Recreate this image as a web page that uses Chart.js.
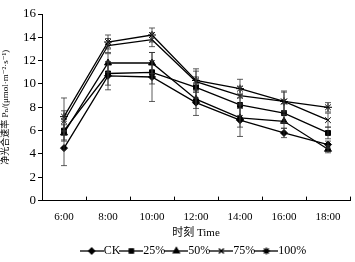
<!DOCTYPE html>
<html>
<head>
<meta charset="utf-8">
<script src="https://cdn.jsdelivr.net/npm/chart.js@4.4.0/dist/chart.umd.min.js"></script>
<style>
  html, body { margin: 0; padding: 0; background: #fff; }
  #wrap { width: 355px; height: 262px; }
</style>
</head>
<body>
<div id="wrap"><canvas id="pnChart"></canvas></div>
<script>
var times = ['6:00', '8:00', '10:00', '12:00', '14:00', '16:00', '18:00'];
var seriesNames = ['CK', '25%', '50%', '75%', '100%'];

var ck   = [4.5, 10.7, 10.6, 8.4, 6.9, 5.8, 4.8];
var p25  = [6.0, 10.9, 11.0, 9.7, 8.2, 7.5, 5.8];
var p50  = [5.8, 11.8, 11.8, 8.7, 7.1, 6.8, 4.4];
var p75  = [6.8, 13.3, 13.8, 10.2, 9.0, 8.5, 6.9];
var p100 = [7.2, 13.6, 14.2, 10.3, 9.6, 8.5, 8.0];

var ckErr   = [1.5, 1.2, 2.1, 1.1, 1.4, 0.4, 0.3];
var p25Err  = [0.8, 1.0, 1.0, 0.9, 0.9, 0.8, 0.5];
var p50Err  = [0.7, 0.8, 0.9, 0.8, 0.8, 0.6, 0.3];
var p75Err  = [0.9, 0.6, 0.6, 0.9, 0.8, 0.8, 0.6];
var p100Err = [1.6, 0.6, 0.6, 1.0, 0.8, 0.9, 0.4];

var yTicks = [0, 2, 4, 6, 8, 10, 12, 14, 16];

var serif = "'Liberation Serif', 'DejaVu Serif', 'Noto Sans CJK SC', serif";
var styles = ['rectRot', 'rect', 'triangle', 'crossRot', 'star'];
var radii = [3.5, 3.5, 4, 4, 4];
var allValues = [ck, p25, p50, p75, p100];
var allErrors = [ckErr, p25Err, p50Err, p75Err, p100Err];

// small line + marker images for the legend
function legendIcon(style, r) {
  var c = document.createElement('canvas');
  c.width = 24; c.height = 10;
  var g = c.getContext('2d');
  g.strokeStyle = '#000'; g.fillStyle = '#000'; g.lineWidth = 1.3;
  g.beginPath(); g.moveTo(0, 5); g.lineTo(24, 5); g.stroke();
  Chart.helpers.drawPoint(g, { pointStyle: style, radius: r, borderWidth: 1 }, 12, 5);
  return c;
}

var errorBars = {
  id: 'errorBars',
  afterDatasetsDraw: function(chart) {
    var ctx = chart.ctx, y = chart.scales.y;
    ctx.save();
    ctx.strokeStyle = '#333';
    ctx.lineWidth = 0.8;
    chart.data.datasets.forEach(function(ds, di) {
      var meta = chart.getDatasetMeta(di);
      meta.data.forEach(function(pt, i) {
        var e = ds.errors[i];
        var top = y.getPixelForValue(ds.data[i] + e);
        var bot = y.getPixelForValue(ds.data[i] - e);
        ctx.beginPath();
        ctx.moveTo(pt.x, top); ctx.lineTo(pt.x, bot);
        ctx.moveTo(pt.x - 3, top); ctx.lineTo(pt.x + 3, top);
        ctx.moveTo(pt.x - 3, bot); ctx.lineTo(pt.x + 3, bot);
        ctx.stroke();
      });
    });
    ctx.restore();
  }
};

// x tick marks point up into the plot, between categories
var innerTicks = {
  id: 'innerTicks',
  afterDraw: function(chart) {
    var ctx = chart.ctx, x = chart.scales.x, a = chart.chartArea;
    ctx.save();
    ctx.strokeStyle = '#000';
    ctx.lineWidth = 1;
    for (var i = 0; i < times.length; i++) {
      var px = i < times.length - 1 ? (x.getPixelForValue(i) + x.getPixelForValue(i + 1)) / 2 : a.right;
      px = Math.round(px) + 0.5;
      ctx.beginPath(); ctx.moveTo(px, a.bottom); ctx.lineTo(px, a.bottom - 4); ctx.stroke();
    }
    ctx.restore();
  }
};

var ctx = document.getElementById('pnChart').getContext('2d');
var pnChart = new Chart(ctx, {
  type: 'line',
  data: {
    labels: times,
    datasets: seriesNames.map(function(name, i) {
      return {
        label: name,
        data: allValues[i],
        errors: allErrors[i],
        borderColor: '#000',
        backgroundColor: '#000',
        borderWidth: 1.3,
        pointStyle: styles[i],
        pointRadius: radii[i],
        pointBorderWidth: 1,
        tension: 0,
        fill: false
      };
    })
  },
  options: {
    responsive: true,
    maintainAspectRatio: false,
    animation: false,
    layout: { padding: { left: 0, right: 4, top: 14, bottom: -5 } },
    plugins: {
      tooltip: { enabled: false },
      legend: {
        position: 'bottom',
        fullSize: false,
        labels: {
          usePointStyle: true,
          boxWidth: 24,
          boxHeight: 8,
          padding: 5,
          color: '#000',
          font: { family: serif, size: 12 },
          generateLabels: function(chart) {
            return chart.data.datasets.map(function(ds, i) {
              return {
                text: ds.label,
                pointStyle: legendIcon(styles[i], radii[i] - 0.5),
                fillStyle: '#000',
                strokeStyle: '#000',
                lineWidth: 0,
                datasetIndex: i,
                hidden: false
              };
            });
          }
        }
      }
    },
    scales: {
      x: {
        offset: true,
        grid: { display: false },
        border: { display: true, color: '#000', width: 1 },
        ticks: { color: '#000', font: { family: serif, size: 11 }, padding: 2, maxRotation: 0 },
        title: {
          display: true,
          text: '时刻 Time',
          color: '#000',
          font: { family: serif, size: 11 },
          padding: { top: 1, bottom: 0 }
        }
      },
      y: {
        min: 0,
        max: 16,
        afterBuildTicks: function(s) { s.ticks = yTicks.map(function(v) { return { value: v }; }); },
        afterFit: function(s) { s.width = 42; },
        grid: { drawOnChartArea: false, tickLength: 4, color: '#000' },
        border: { display: true, color: '#000', width: 1 },
        ticks: { color: '#000', font: { family: serif, size: 13 }, padding: 2 },
        title: {
          display: true,
          text: '净光合速率 Pₙ/(μmol·m⁻²·s⁻¹)',
          color: '#000',
          font: { family: serif, size: 9 },
          padding: { top: 0, bottom: 3 }
        }
      }
    }
  },
  plugins: [errorBars, innerTicks]
});
</script>
</body>
</html>
